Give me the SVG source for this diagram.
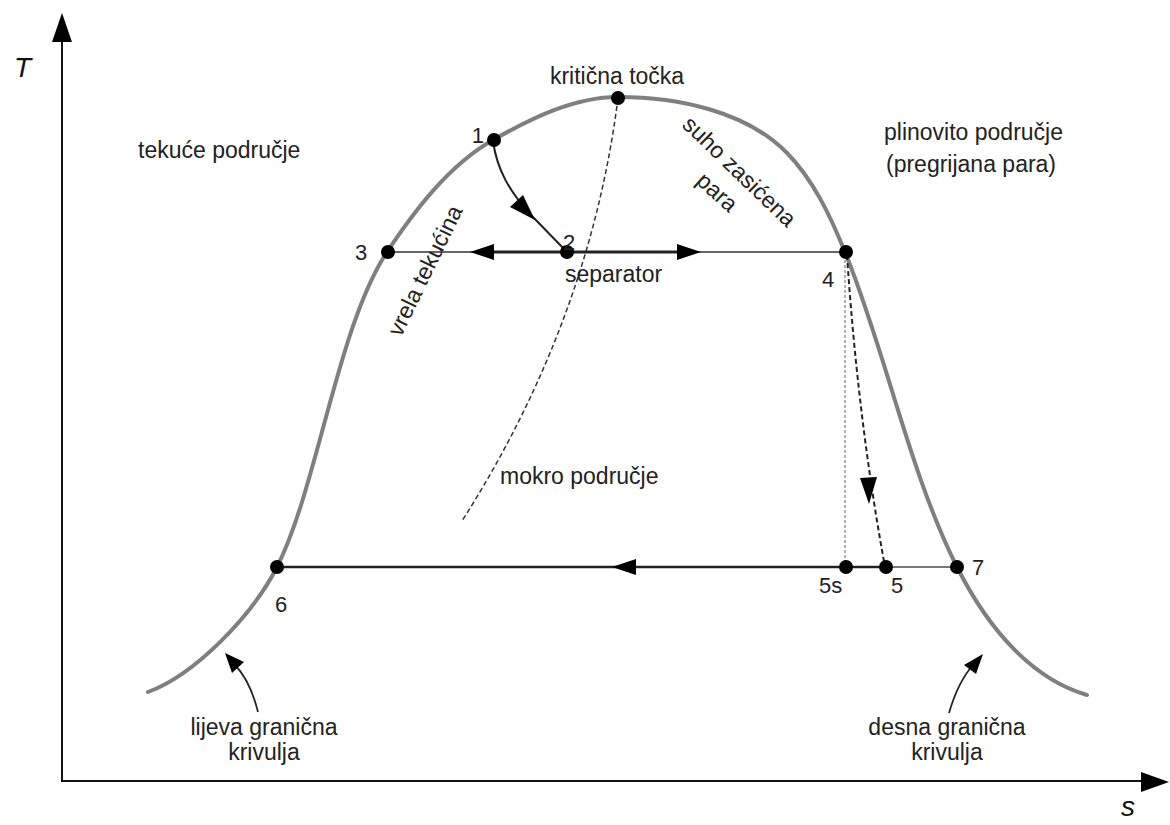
<svg xmlns="http://www.w3.org/2000/svg" width="1170" height="825" viewBox="0 0 1170 825">
<style>
.lbl{font-family:"Liberation Sans",Arial,sans-serif;font-size:23px;fill:#222}
.num{font-family:"Liberation Sans",Arial,sans-serif;font-size:22px;fill:#222}
.ax{font-family:"Liberation Sans",Arial,sans-serif;font-size:28px;font-style:italic;fill:#111}
.dome{fill:none;stroke:#7f7f7f;stroke-width:4;stroke-linecap:round}
.dot{fill:#000}
.ah{fill:#000}
</style>
<rect width="1170" height="825" fill="#fff"/>
<g id="axes">
<line x1="62" y1="781" x2="62" y2="38" stroke="#111" stroke-width="2"/>
<polygon class="ah" points="62,13 52,42 72,42"/>
<line x1="61" y1="781" x2="1145" y2="781" stroke="#111" stroke-width="2"/>
<polygon class="ah" points="1169,782 1141,772 1141,792"/>
<text class="ax" x="14" y="77">T</text>
<text class="ax" x="1121" y="816">s</text>
</g>
<g id="dome">
<path class="dome" d="M148,692 C195,674.5 252,616 277,567 C317.5,487 337.5,326.7 387,252 C415,210 449,165 493,140 C531,118.4 574,97 618,97 C677,97 746,111 787,153 C813.6,180 830.6,216.7 845,252 C885,349.7 909.75,473.5 957,567 C990.75,633.75 1035,680 1087,695"/>
</g>
<g id="connectors">
<path d="M618,98 Q590,320 462,521" fill="none" stroke="#333" stroke-width="1.5" stroke-dasharray="5,3"/>
<line x1="387" y1="252" x2="845" y2="252" stroke="#666" stroke-width="2"/>
<line x1="490" y1="252" x2="680" y2="252" stroke="#222" stroke-width="3"/>
<polygon class="ah" points="470,252 494,244 494,260"/>
<polygon class="ah" points="701,252 677,244 677,260"/>
<path d="M493,141 C497,170 510,192 530,214 L567,252" fill="none" stroke="#222" stroke-width="2"/>
<polygon class="ah" points="535,220 510,207 523,195"/>
<line x1="845" y1="255" x2="845" y2="567" stroke="#b0b0b0" stroke-width="2" stroke-dasharray="3,2"/>
<path d="M847,255 Q858,420 885,567" fill="none" stroke="#222" stroke-width="2" stroke-dasharray="5,3"/>
<polygon class="ah" points="869,504 860,478 877,477"/>
<line x1="277" y1="567" x2="885" y2="567" stroke="#222" stroke-width="2.5"/>
<line x1="885" y1="567" x2="957" y2="567" stroke="#777" stroke-width="2"/>
<polygon class="ah" points="612,567 636,559 636,575"/>
<path d="M258,712 Q250,680 234,664" fill="none" stroke="#222" stroke-width="1.8"/>
<polygon class="ah" points="225,653 244,662 232,673"/>
<path d="M949,713 Q958,682 973,665" fill="none" stroke="#222" stroke-width="1.8"/>
<polygon class="ah" points="983,654 976,674 964,665"/>
</g>
<g id="node-crit"><circle class="dot" cx="618" cy="98" r="7"/><text class="lbl" x="617" y="84" text-anchor="middle">kritična točka</text></g>
<g id="node-1"><circle class="dot" cx="494" cy="140" r="7"/><text class="num" x="484" y="143" text-anchor="end">1</text></g>
<g id="node-2"><circle class="dot" cx="567" cy="252" r="7"/><text class="num" x="563" y="250">2</text></g>
<g id="node-3"><circle class="dot" cx="388" cy="252" r="7"/><text class="num" x="355" y="260">3</text></g>
<g id="node-4"><circle class="dot" cx="846" cy="252" r="7"/><text class="num" x="822" y="287">4</text></g>
<g id="node-5s"><circle class="dot" cx="846" cy="567" r="7"/><text class="num" x="819" y="593">5s</text></g>
<g id="node-5"><circle class="dot" cx="886" cy="567" r="7"/><text class="num" x="891" y="593">5</text></g>
<g id="node-6"><circle class="dot" cx="277" cy="567" r="7"/><text class="num" x="275" y="612">6</text></g>
<g id="node-7"><circle class="dot" cx="957" cy="567" r="7"/><text class="num" x="972" y="575">7</text></g>
<g id="labels">
<text class="lbl" x="138" y="158">tekuće područje</text>
<text class="lbl" x="884" y="140">plinovito područje</text>
<text class="lbl" x="886" y="172">(pregrijana para)</text>
<text class="lbl" x="565" y="282">separator</text>
<text class="lbl" x="500" y="484">mokro područje</text>
<text class="lbl" transform="translate(432,274) rotate(-64)" text-anchor="middle">vrela tekućina</text>
<text class="lbl" transform="translate(734,177) rotate(44)" text-anchor="middle">suho zasićena</text>
<text class="lbl" transform="translate(712,198) rotate(42)" text-anchor="middle">para</text>
<text class="lbl" x="264" y="735" text-anchor="middle">lijeva granična</text>
<text class="lbl" x="264" y="760" text-anchor="middle">krivulja</text>
<text class="lbl" x="947" y="735" text-anchor="middle">desna granična</text>
<text class="lbl" x="947" y="760" text-anchor="middle">krivulja</text>
</g>
</svg>
